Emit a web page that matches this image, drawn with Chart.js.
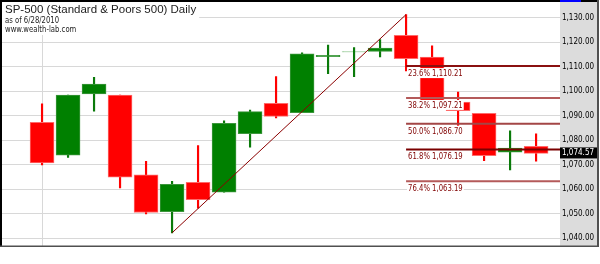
<!DOCTYPE html>
<html>
<head>
<meta charset="utf-8">
<script src="https://cdn.jsdelivr.net/npm/chart.js@4"></script>
<style>
  html, body { margin: 0; padding: 0; background: #fff; }
</style>
</head>
<body>
<canvas id="chart" width="600" height="264"></canvas>
<script>
// SP-500 daily, June 2010
const dates = ["6/1", "6/2", "6/3", "6/4", "6/7", "6/8", "6/9", "6/10", "6/11", "6/14",
  "6/15", "6/16", "6/17", "6/18", "6/21", "6/22", "6/23", "6/24", "6/25", "6/28"];
const opens = [1087.30, 1073.89, 1098.82, 1098.43, 1065.84, 1050.81, 1062.75, 1058.77, 1082.65, 1095.00,
  1091.21, 1114.02, 1115.98, 1116.16, 1122.79, 1113.90, 1095.57, 1090.93, 1075.10, 1077.50];
const highs = [1094.77, 1098.42, 1105.67, 1098.43, 1071.36, 1063.15, 1077.74, 1087.85, 1092.25, 1105.91,
  1115.59, 1118.74, 1117.72, 1121.01, 1131.23, 1118.50, 1099.64, 1090.93, 1083.80, 1082.60];
const lows = [1069.89, 1072.94, 1091.81, 1060.50, 1049.86, 1042.17, 1052.25, 1058.77, 1077.12, 1089.03,
  1091.21, 1107.13, 1105.87, 1113.93, 1108.24, 1094.18, 1085.31, 1071.60, 1067.89, 1071.45];
const closes = [1070.71, 1098.38, 1102.83, 1064.88, 1050.47, 1062.00, 1055.69, 1086.84, 1091.60, 1089.63,
  1115.23, 1114.61, 1116.04, 1117.51, 1113.20, 1095.31, 1092.04, 1073.69, 1076.76, 1074.57];

// fibonacci retracement from the 6/8 low to the 6/21 high
const swingLow = 5;
const swingHigh = 14;
const fibPcts = [23.6, 38.2, 50.0, 61.8, 76.4];
const fibValues = [1110.21, 1097.21, 1086.70, 1076.19, 1063.19];

const yTicks = [1040, 1050, 1060, 1070, 1080, 1090, 1100, 1110, 1120, 1130];
const monthStarts = [0];

const titleText = "SP-500 (Standard & Poors 500) Daily";
const subText1 = "as of 6/28/2010";
const subText2 = "www.wealth-lab.com";

// styles
const UP = "#008000", DOWN = "#ff0000";
const fibColors = ["#8a1010", "#b45a5a", "#a34646", "#7a0000", "#b45a5a"];
const NARROW = "'Liberation Sans Narrow', 'DejaVu Sans Condensed', 'Liberation Sans', sans-serif";
const X_MIN = -1.54, X_MAX = 19.92;

const fmt = v => v.toLocaleString("en-US", { minimumFractionDigits: 2, maximumFractionDigits: 2 });
const isUp = i => closes[i] >= opens[i];

const fibDatasets = fibValues.map((v, k) => ({
  type: "line",
  data: [{ x: swingHigh, y: v }, { x: X_MAX, y: v }],
  borderColor: fibColors[k],
  borderWidth: 2,
  pointRadius: 0,
  order: 0
}));

// draw text squeezed horizontally so it matches the narrow font of the original
function narrowText(ctx, txt, x, y, sx) {
  ctx.save();
  ctx.translate(x, y);
  ctx.scale(sx, 1);
  ctx.fillText(txt, 0, 0);
  ctx.restore();
}

const decor = {
  id: "decor",
  beforeDraw(chart) {
    const ctx = chart.ctx, ca = chart.chartArea;
    ctx.save();
    ctx.fillStyle = "#fff";
    ctx.fillRect(0, 0, chart.width, chart.height);
    ctx.fillStyle = "#dcdcdc";
    ctx.fillRect(ca.right, 0, 597 - ca.right, ca.bottom);
    ctx.restore();
  },
  afterDatasetsDraw(chart) {
    const ctx = chart.ctx, ca = chart.chartArea;
    const xs = chart.scales.x, ys = chart.scales.y;
    ctx.save();
    ctx.font = "9px " + NARROW;
    ctx.textBaseline = "top";
    fibValues.forEach((v, k) => {
      const txt = fibPcts[k].toFixed(1) + "% " + fmt(v);
      const x = xs.getPixelForValue(swingHigh) + 2;
      const y = ys.getPixelForValue(v) + 2;
      const w = ctx.measureText(txt).width * 0.85;
      ctx.fillStyle = "#fff";
      ctx.fillRect(x - 1, y, w + 2, 10);
      ctx.fillStyle = "#800000";
      narrowText(ctx, txt, x, y + 1, 0.85);
    });
    // last price marker
    const last = closes[closes.length - 1];
    const ly = ys.getPixelForValue(last);
    ctx.fillStyle = "#000";
    ctx.fillRect(ca.right, ly - 6, 37, 11);
    ctx.fillStyle = "#fff";
    ctx.font = "8px " + NARROW;
    ctx.textBaseline = "middle";
    ctx.fillText(fmt(last), ca.right + 2, ly - 0.5);
    ctx.restore();
  },
  afterDraw(chart) {
    const ctx = chart.ctx;
    ctx.save();
    ctx.font = "11.5px 'Liberation Sans', Arial, sans-serif";
    const tw = ctx.measureText(titleText).width;
    ctx.fillStyle = "#fff";
    ctx.fillRect(2, 2, tw + 6, 33);
    ctx.fillStyle = "#222";
    ctx.textBaseline = "alphabetic";
    ctx.fillText(titleText, 5, 13);
    ctx.font = "9px " + NARROW;
    narrowText(ctx, subText1, 5, 23, 0.85);
    narrowText(ctx, subText2, 5, 32, 0.85);
    // frame
    ctx.fillStyle = "#000";
    ctx.fillRect(0, 0, 599, 2);
    ctx.fillRect(0, 0, 2, 247);
    ctx.fillStyle = "#0000ff";
    ctx.fillRect(560, 0, 21, 2);
    ctx.fillStyle = "#505050";
    ctx.fillRect(0, 245.5, 599, 1.5);
    ctx.fillRect(597, 0, 2, 247);
    ctx.restore();
  }
};

new Chart(document.getElementById("chart").getContext("2d"), {
  type: "bar",
  data: {
    datasets: [
      {
        data: dates.map((d, i) => ({ x: i, y: [opens[i], closes[i]] })),
        backgroundColor: dates.map((d, i) => isUp(i) ? UP : DOWN),
        borderColor: dates.map((d, i) => isUp(i) ? "#3c963c" : "#ff6a6a"),
        borderWidth: 1,
        borderSkipped: false,
        barThickness: 24,
        grouped: false,
        order: 1
      },
      {
        data: dates.map((d, i) => ({ x: i, y: [lows[i], highs[i]] })),
        backgroundColor: dates.map((d, i) => isUp(i) ? "#0a7a0a" : DOWN),
        borderWidth: 0,
        barThickness: 1.5,
        grouped: false,
        order: 2
      },
      {
        type: "line",
        data: [{ x: swingLow, y: lows[swingLow] }, { x: swingHigh, y: highs[swingHigh] }],
        borderColor: "#8b0000",
        borderWidth: 1,
        pointRadius: 0,
        order: 0
      },
      ...fibDatasets
    ]
  },
  options: {
    responsive: false,
    animation: false,
    layout: { padding: { left: 2, top: 2, right: 3, bottom: 18 } },
    plugins: { legend: { display: false }, tooltip: { enabled: false } },
    scales: {
      x: {
        type: "linear",
        offset: false,
        min: X_MIN,
        max: X_MAX,
        afterBuildTicks: s => { s.ticks = monthStarts.map(v => ({ value: v })); },
        afterFit: s => { s.height = 0; },
        ticks: { display: false },
        grid: { color: "#d8d8d8", drawTicks: false, offset: false },
        border: { display: false }
      },
      y: {
        position: "right",
        min: 1036.8,
        max: 1134.4,
        afterBuildTicks: s => { s.ticks = yTicks.map(v => ({ value: v })); },
        afterFit: s => { s.width = 37; },
        ticks: {
          color: "#000",
          padding: 2,
          font: { family: NARROW, size: 8 },
          callback: v => fmt(v)
        },
        grid: { color: "#d8d8d8", drawTicks: false },
        border: { display: false }
      }
    }
  },
  plugins: [decor]
});
</script>
</body>
</html>
